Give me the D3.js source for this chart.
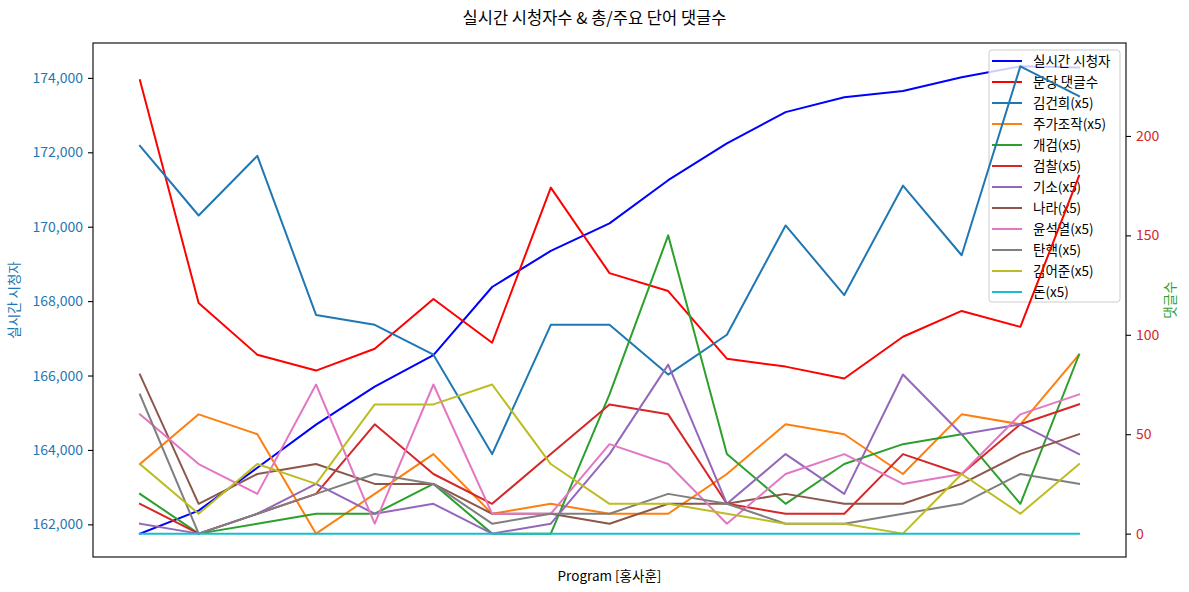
<!DOCTYPE html>
<html>
<head>
<meta charset="utf-8">
<script src="https://cdn.jsdelivr.net/npm/d3@7"></script>
<style>
  body { margin: 0; background: #fff; }
  svg { font-family: "Noto Sans CJK KR", "Noto Sans", sans-serif; }
</style>
</head>
<body>
<svg id="chart"></svg>
<script>
// index of each program sample (x has no tick labels)
var points = d3.range(17)

var viewers = [161750, 162370, 163520, 164680, 165700, 166550, 168380, 169350, 170090,
               171250, 172240, 173080, 173480, 173650, 174020, 174310, 174280]

var commentsPerMin = [228, 116, 90, 82, 93, 118, 96, 174, 131, 122, 88, 84, 78, 99, 112, 104, 180]

// keyword counts, already multiplied by 5 as in the picture
var keywords = ["김건희", "주가조작", "개검", "검찰", "기소", "나라", "윤석열", "탄핵", "김어준", "돈"]
var kwColors = ["#1f77b4", "#ff7f0e", "#2ca02c", "#d62728", "#9467bd",
                "#8c564b", "#e377c2", "#7f7f7f", "#bcbd22", "#17becf"]
var kwValues = [
  [195, 160, 190, 110, 105, 90, 40, 105, 105, 80, 100, 155, 120, 175, 140, 235, 220],
  [35, 60, 50, 0, 20, 40, 10, 15, 10, 10, 30, 55, 50, 30, 60, 55, 90],
  [20, 0, 5, 10, 10, 25, 0, 0, 70, 150, 40, 15, 35, 45, 50, 15, 90],
  [15, 0, 10, 20, 55, 30, 15, 40, 65, 60, 15, 10, 10, 40, 30, 55, 65],
  [5, 0, 10, 25, 10, 15, 0, 5, 40, 85, 15, 40, 20, 80, 50, 55, 40],
  [80, 15, 30, 35, 25, 25, 10, 10, 5, 15, 15, 20, 15, 15, 25, 40, 50],
  [60, 35, 20, 75, 5, 75, 10, 10, 45, 35, 5, 30, 40, 25, 30, 60, 70],
  [70, 0, 10, 20, 30, 25, 5, 10, 10, 20, 15, 5, 5, 10, 15, 30, 25],
  [35, 10, 35, 25, 65, 65, 75, 35, 15, 15, 10, 5, 5, 0, 30, 10, 35],
  [0, 0, 0, 0, 0, 0, 0, 0, 0, 0, 0, 0, 0, 0, 0, 0, 0]
]

var leftTicks = [162000, 164000, 166000, 168000, 170000, 172000, 174000]
var rightTicks = [0, 50, 100, 150, 200]

var W = 1189, H = 592
var margin = {top: 43, right: 63, bottom: 35, left: 93}
var width = W - margin.left - margin.right,
    height = H - margin.top - margin.bottom

var svg = d3.select("#chart").attr("width", W).attr("height", H)

// matplotlib style 5% padding
function padded(ext) {
  var d = ext[1] - ext[0]
  return [ext[0] - d * 0.05, ext[1] + d * 0.05]
}

var x = d3.scaleLinear()
  .domain(padded([0, points.length - 1]))
  .range([margin.left, margin.left + width])

var yL = d3.scaleLinear()
  .domain(padded(d3.extent(viewers)))
  .range([margin.top + height, margin.top])

var allRight = commentsPerMin.concat(d3.merge(kwValues))
var yR = d3.scaleLinear()
  .domain(padded(d3.extent(allRight)))
  .range([margin.top + height, margin.top])

svg.append("clipPath").attr("id", "plotclip")
  .append("rect")
  .attr("x", margin.left).attr("y", margin.top)
  .attr("width", width).attr("height", height)

function drawLine(g, vals, scale, color) {
  var line = d3.line()
    .x(function(d, i) { return x(points[i]) })
    .y(function(d) { return scale(d) })
  g.append("path")
    .datum(vals)
    .attr("d", line)
    .attr("fill", "none")
    .attr("stroke", color)
    .attr("stroke-width", 2)
    .attr("stroke-linejoin", "round")
    .attr("stroke-linecap", "square")
}

// left axes: viewers, then its legend, then the twin axes on top
var plotL = svg.append("g").attr("clip-path", "url(#plotclip)")
drawLine(plotL, viewers, yL, "#0000ff")

// legend
var legendNames = ["실시간 시청자", "분당 댓글수"].concat(keywords.map(function(k) { return k + "(x5)" }))
var legendColors = ["#0000ff", "#ff0000"].concat(kwColors)

var lg = svg.append("g").attr("transform", "translate(989,50)")
lg.append("rect")
  .attr("width", 131).attr("height", 252)
  .attr("rx", 3)
  .attr("fill", "#fff").attr("fill-opacity", 0.8)
  .attr("stroke", "#cccccc").attr("stroke-width", 1)

var rows = lg.selectAll("g.row")
  .data(legendNames)
  .enter()
  .append("g")
  .attr("class", "row")
  .attr("transform", function(d, i) { return "translate(0," + (11 + i * 21) + ")" })

rows.append("line")
  .attr("x1", 3).attr("x2", 33)
  .attr("stroke", function(d, i) { return legendColors[i] })
  .attr("stroke-width", 2)

rows.append("text")
  .attr("x", 44).attr("dy", "0.35em")
  .style("font-size", "13.5px")
  .attr("fill", "#000")
  .text(function(d) { return d })

var plotR = svg.append("g").attr("clip-path", "url(#plotclip)")
drawLine(plotR, commentsPerMin, yR, "#ff0000")
kwValues.forEach(function(v, i) { drawLine(plotR, v, yR, kwColors[i]) })

// axes
var leftAxis = svg.append("g")
  .attr("transform", "translate(" + margin.left + ",0)")
  .call(d3.axisLeft(yL).tickValues(leftTicks).tickFormat(d3.format(",")).tickSize(5).tickPadding(5))
var rightAxis = svg.append("g")
  .attr("transform", "translate(" + (margin.left + width) + ",0)")
  .call(d3.axisRight(yR).tickValues(rightTicks).tickSize(5).tickPadding(5))

;[leftAxis, rightAxis].forEach(function(a) {
  a.select(".domain").remove()
  a.selectAll(".tick line").attr("stroke", "#000").attr("stroke-width", 1.1)
  a.selectAll(".tick text").style("font-size", "14px")
    .style("font-family", "'Noto Sans CJK KR', sans-serif")
})
leftAxis.selectAll(".tick text").attr("fill", "#1f77b4")
rightAxis.selectAll(".tick text").attr("fill", "#d62728")

svg.append("rect")
  .attr("x", margin.left).attr("y", margin.top)
  .attr("width", width).attr("height", height)
  .attr("fill", "none").attr("stroke", "#000").attr("stroke-width", 1.1)

// labels
svg.append("text")
  .attr("x", W / 2).attr("y", 24)
  .attr("text-anchor", "middle")
  .style("font-size", "16.5px")
  .attr("fill", "#000")
  .text("실시간 시청자수 & 총/주요 단어 댓글수")

svg.append("text")
  .attr("x", margin.left + width / 2).attr("y", 581)
  .attr("text-anchor", "middle")
  .style("font-size", "13.5px")
  .text("Program [홍사훈]")

svg.append("text")
  .attr("transform", "translate(19," + (margin.top + height / 2) + ") rotate(-90)")
  .attr("text-anchor", "middle")
  .style("font-size", "13.5px")
  .attr("fill", "#1f77b4")
  .text("실시간 시청자")

svg.append("text")
  .attr("transform", "translate(1175," + (margin.top + height / 2) + ") rotate(-90)")
  .attr("text-anchor", "middle")
  .style("font-size", "13.5px")
  .attr("fill", "#2ca02c")
  .text("댓글수")
</script>
</body>
</html>
